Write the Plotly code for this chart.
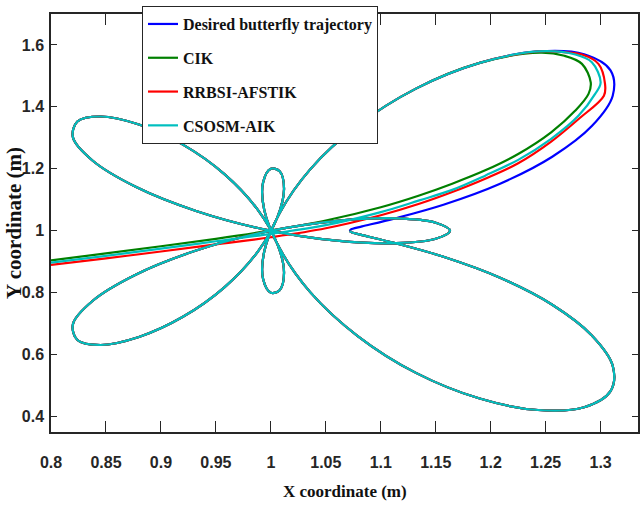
import plotly.graph_objects as go

# Desired butterfly trajectory, sampled every 5 degrees of the path parameter
# (with two extra samples at each end so the closing tip stays round)
desired_x = [1.072, 1.0725, 1.0745, 1.083, 1.113, 1.157, 1.208, 1.256, 1.292, 1.311,
             1.309, 1.285, 1.243, 1.190, 1.132, 1.079, 1.036, 1.008, 0.994, 0.993,
             1.000, 1.008, 1.012, 1.006, 0.988, 0.958, 0.920, 0.880, 0.845, 0.824,
             0.820, 0.838, 0.877, 0.932, 0.996, 1.060, 1.114, 1.150, 1.163,
             1.150, 1.114, 1.060, 0.996, 0.932, 0.877, 0.838, 0.820, 0.824, 0.845,
             0.880, 0.920, 0.958, 0.988, 1.006, 1.012, 1.008, 1.000, 0.993, 0.994,
             1.008, 1.036, 1.079, 1.132, 1.190, 1.243, 1.285, 1.309, 1.311, 1.292,
             1.256, 1.208, 1.157, 1.113, 1.083, 1.0745, 1.0725, 1.072]
desired_y = [1.000, 1.0032, 1.0065, 1.014, 1.040, 1.084, 1.151, 1.239, 1.338, 1.436,
             1.518, 1.570, 1.579, 1.542, 1.459, 1.340, 1.199, 1.057, 0.933, 0.843,
             0.800, 0.808, 0.864, 0.956, 1.068, 1.182, 1.278, 1.343, 1.369, 1.353,
             1.301, 1.226, 1.142, 1.064, 1.003, 0.968, 0.960, 0.974, 1.000,
             1.026, 1.040, 1.032, 0.997, 0.936, 0.858, 0.774, 0.699, 0.647, 0.631,
             0.657, 0.722, 0.818, 0.932, 1.044, 1.136, 1.192, 1.200, 1.157, 1.067,
             0.943, 0.801, 0.660, 0.541, 0.458, 0.421, 0.430, 0.482, 0.564, 0.662,
             0.761, 0.849, 0.916, 0.960, 0.986, 0.9935, 0.9968, 1.000]

# Transient part of each tracking method before it settles onto the desired path
cik_x = [0.800, 0.850, 0.900, 0.950, 1.000, 1.050, 1.100, 1.135, 1.165, 1.195,
         1.225, 1.255, 1.277, 1.289, 1.291, 1.283, 1.267, 1.245]
cik_y = [0.904, 0.927, 0.950, 0.974, 1.001, 1.033, 1.076, 1.114, 1.152, 1.195,
         1.248, 1.318, 1.388, 1.442, 1.479, 1.539, 1.565, 1.575]
cik_join = 13

rrbsi_x = [0.800, 0.850, 0.900, 0.950, 1.000, 1.050, 1.100, 1.135, 1.165, 1.195,
           1.225, 1.255, 1.280, 1.303, 1.304, 1.298, 1.283, 1.262]
rrbsi_y = [0.890, 0.911, 0.933, 0.956, 0.979, 1.008, 1.050, 1.087, 1.125, 1.168,
           1.218, 1.288, 1.361, 1.436, 1.474, 1.539, 1.569, 1.578]
rrbsi_join = 12

csosm_x = [0.800, 0.850, 0.900, 0.950, 1.000, 1.050, 1.100, 1.135, 1.165, 1.195,
           1.225, 1.255, 1.280, 1.295, 1.300, 1.292, 1.277]
csosm_y = [0.897, 0.919, 0.942, 0.966, 0.990, 1.018, 1.060, 1.098, 1.132, 1.178,
           1.229, 1.297, 1.372, 1.442, 1.479, 1.544, 1.569]
csosm_join = 12

series_names = ["Desired butterfly trajectory", "CIK", "RRBSI-AFSTIK", "CSOSM-AIK"]
series_colors = ["#0000FF", "#008000", "#FF0000", "#00BFBF"]

x_ticks = [0.8, 0.85, 0.9, 0.95, 1.0, 1.05, 1.1, 1.15, 1.2, 1.25, 1.3]
x_tick_text = ["0.8", "0.85", "0.9", "0.95", "1", "1.05", "1.1", "1.15", "1.2", "1.25", "1.3"]
y_ticks = [0.4, 0.6, 0.8, 1.0, 1.2, 1.4, 1.6]
y_tick_text = ["0.4", "0.6", "0.8", "1", "1.2", "1.4", "1.6"]

paths = [
    (desired_x, desired_y),
    (cik_x + desired_x[cik_join:], cik_y + desired_y[cik_join:]),
    (rrbsi_x + desired_x[rrbsi_join:], rrbsi_y + desired_y[rrbsi_join:]),
    (csosm_x + desired_x[csosm_join:], csosm_y + desired_y[csosm_join:]),
]

fig = go.Figure()
for (px, py), name, color in zip(paths, series_names, series_colors):
    fig.add_trace(go.Scatter(
        x=px, y=py, mode="lines", name=name, legendgroup=name,
        line=dict(color=color, width=2.2, shape="spline", smoothing=1.0),
    ))

axis_color = "#262626"
tick_font = dict(family="Liberation Sans, Arial, sans-serif",
                 size=16, color=axis_color, weight="bold")
serif_bold = dict(family="Liberation Serif, Times New Roman, serif", color="#111111", weight="bold")

fig.update_xaxes(
    range=[0.8, 1.334], tickvals=x_ticks, ticktext=x_tick_text,
    ticks="inside", ticklen=11, tickwidth=1.2, tickcolor=axis_color,
    showline=True, linecolor=axis_color, linewidth=1.5, mirror="ticks",
    showgrid=False, zeroline=False, tickfont=tick_font, ticklabelstandoff=15,
)
fig.update_yaxes(
    range=[0.35, 1.7], tickvals=y_ticks, ticktext=y_tick_text,
    ticks="inside", ticklen=6, tickwidth=1.2, tickcolor=axis_color,
    showline=True, linecolor=axis_color, linewidth=1.5, mirror="ticks",
    showgrid=False, zeroline=False, tickfont=tick_font, ticklabelstandoff=2,
)

fig.add_annotation(text="X coordinate (m)", xref="paper", yref="paper", x=0.5, y=0,
                   xanchor="center", yanchor="middle", yshift=-59, showarrow=False,
                   font=dict(size=17, **serif_bold))
fig.add_annotation(text="Y coordinate (m)", xref="paper", yref="paper", x=0, y=0.5,
                   xanchor="center", yanchor="middle", xshift=-37, textangle=-90,
                   showarrow=False, font=dict(size=21, **serif_bold))

fig.update_layout(
    width=644, height=506,
    margin=dict(l=51, r=4, t=14, b=74),
    plot_bgcolor="white", paper_bgcolor="white",
    legend=dict(
        x=0.155, y=1.019, xanchor="left", yanchor="top",
        bgcolor="white", bordercolor=axis_color, borderwidth=1,
        font=dict(size=16, **serif_bold),
        traceorder="grouped", tracegroupgap=10,
    ),
)

fig.write_html("out.html")
